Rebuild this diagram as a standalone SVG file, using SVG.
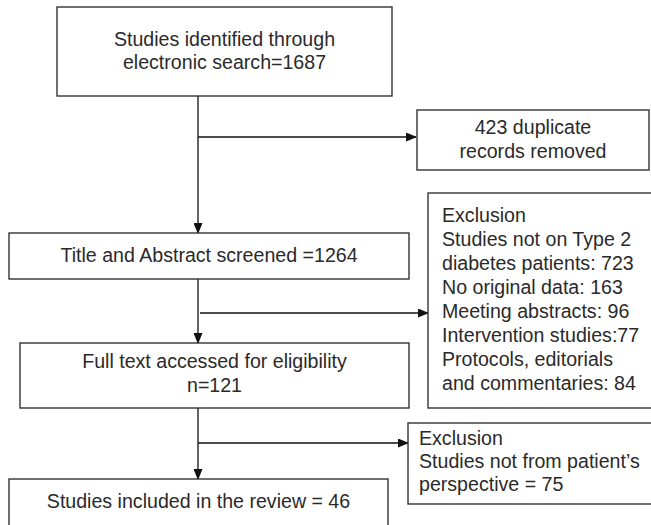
<svg xmlns="http://www.w3.org/2000/svg" width="651" height="525" viewBox="0 0 651 525">
<defs>
<marker id="arr" markerUnits="userSpaceOnUse" markerWidth="11" markerHeight="9" refX="10" refY="4.5" orient="auto">
<path d="M0,0 L11,4.5 L0,9 z" fill="#111"/>
</marker>
<style>
.box{fill:#fff;stroke:#333;stroke-width:1.4}
.t{font-family:"Liberation Sans",Arial,sans-serif;font-size:19.6px;fill:#2a2a2a}
.c{text-anchor:middle}
.ln{fill:none;stroke:#111;stroke-width:1.3}
</style>
</defs>
<rect width="651" height="525" fill="#fff"/>
<g id="connectors">
<line class="ln" x1="198" y1="96" x2="198" y2="233" marker-end="url(#arr)"/>
<line class="ln" x1="198" y1="137" x2="416" y2="137" marker-end="url(#arr)"/>
<line class="ln" x1="198" y1="279" x2="198" y2="343" marker-end="url(#arr)"/>
<line class="ln" x1="200" y1="313" x2="428" y2="313" marker-end="url(#arr)"/>
<line class="ln" x1="198" y1="408" x2="198" y2="479" marker-end="url(#arr)"/>
<line class="ln" x1="198" y1="443" x2="408" y2="443" marker-end="url(#arr)"/>
</g>
<g id="identified">
<rect class="box" x="57" y="7" width="335" height="89"/>
<text class="t c" x="224.5" y="45.5">Studies identified through</text>
<text class="t c" x="224.5" y="68.5">electronic search=1687</text>
</g>
<g id="duplicates">
<rect class="box" x="417" y="110" width="232" height="60"/>
<text class="t c" x="533" y="134">423 duplicate</text>
<text class="t c" x="533" y="158">records removed</text>
</g>
<g id="screened">
<rect class="box" x="9" y="233" width="400" height="46"/>
<text class="t c" x="209" y="262">Title and Abstract screened =1264</text>
</g>
<g id="exclusion1">
<rect class="box" x="428" y="193" width="230" height="215"/>
<text class="t" x="442" y="222">Exclusion</text>
<text class="t" x="442" y="246">Studies not on Type 2</text>
<text class="t" x="442" y="270">diabetes patients: 723</text>
<text class="t" x="442" y="294">No original data: 163</text>
<text class="t" x="442" y="318">Meeting abstracts: 96</text>
<text class="t" x="442" y="342">Intervention studies:77</text>
<text class="t" x="442" y="366">Protocols, editorials</text>
<text class="t" x="442" y="390">and commentaries: 84</text>
</g>
<g id="fulltext">
<rect class="box" x="20" y="343" width="389" height="65"/>
<text class="t c" x="214.5" y="368">Full text accessed for eligibility</text>
<text class="t c" x="214.5" y="392">n=121</text>
</g>
<g id="exclusion2">
<rect class="box" x="408" y="423" width="250" height="81"/>
<text class="t" x="419" y="445">Exclusion</text>
<text class="t" x="419" y="468">Studies not from patient’s</text>
<text class="t" x="419" y="491">perspective = 75</text>
</g>
<g id="included">
<rect class="box" x="9" y="479" width="379" height="60"/>
<text class="t c" x="198.5" y="508">Studies included in the review = 46</text>
</g>
</svg>
